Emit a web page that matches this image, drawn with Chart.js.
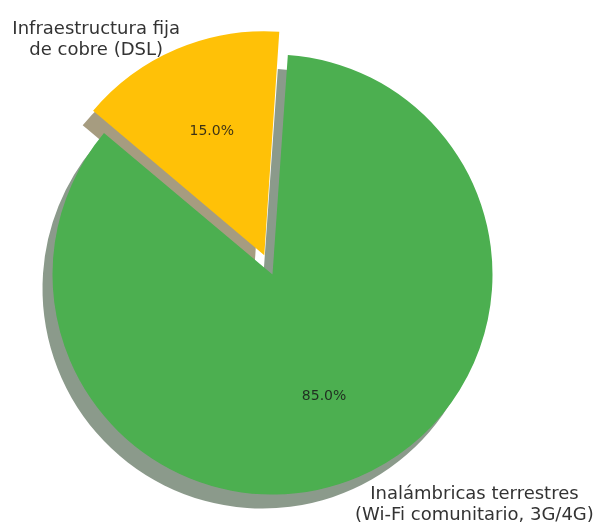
<!DOCTYPE html>
<html>
<head>
<meta charset="utf-8">
<script src="https://cdn.jsdelivr.net/npm/chart.js@4.4.1/dist/chart.umd.min.js"></script>
<style>
  html, body { margin: 0; padding: 0; background: #ffffff; }
  #wrap { width: 598px; height: 528px; position: relative; }
</style>
</head>
<body>
<div id="wrap"><canvas id="pie"></canvas></div>
<script>
// Access-technology shares (percent)
const categories = ['Infraestructura fija\nde cobre (DSL)', 'Inalámbricas terrestres\n(Wi-Fi comunitario, 3G/4G)'];
const shares = [15, 85];
const sliceColors = ['#FFC107', '#4CAF50'];
const explodeOffset = [84, 0];   // Chart.js arc offset (drawn shift = offset / 4)

const FONT = "'DejaVu Sans', 'Liberation Sans', sans-serif";
const SHADOW_DX = -10, SHADOW_DY = 14;

function shadowOf(hex) {
  const n = parseInt(hex.slice(1), 16);
  const r = Math.round(((n >> 16) & 255) * 0.3);
  const g = Math.round(((n >> 8) & 255) * 0.3);
  const b = Math.round((n & 255) * 0.3);
  return `rgba(${r},${g},${b},0.5)`;
}

// Arc geometry including the explode shift applied by ArcElement.draw
function arcGeom(el) {
  const p = el.getProps(['x', 'y', 'startAngle', 'endAngle', 'outerRadius', 'circumference'], true);
  const off = (el.options.offset || 0) / 4;
  const mid = (p.startAngle + p.endAngle) / 2;
  const fix = 1 - Math.sin(Math.min(Math.PI, p.circumference || 0));
  return {
    cx: p.x + Math.cos(mid) * off,
    cy: p.y + Math.sin(mid) * off,
    r: p.outerRadius + off * fix,
    start: p.startAngle, end: p.endAngle, mid
  };
}

const shadowPlugin = {
  id: 'wedgeShadow',
  beforeDatasetsDraw(chart) {
    const ctx = chart.ctx;
    const meta = chart.getDatasetMeta(0);
    meta.data.forEach((el, i) => {
      const g = arcGeom(el);
      ctx.save();
      ctx.translate(SHADOW_DX, SHADOW_DY);
      ctx.beginPath();
      ctx.moveTo(g.cx, g.cy);
      ctx.arc(g.cx, g.cy, g.r, g.start, g.end);
      ctx.closePath();
      ctx.fillStyle = shadowOf(sliceColors[i]);
      ctx.fill();
      ctx.restore();
    });
  }
};

const labelPlugin = {
  id: 'wedgeLabels',
  afterDatasetsDraw(chart) {
    const ctx = chart.ctx;
    const meta = chart.getDatasetMeta(0);
    const values = chart.data.datasets[0].data;
    const total = values.reduce((a, b) => a + b, 0);
    meta.data.forEach((el, i) => {
      const g = arcGeom(el);
      const cos = Math.cos(g.mid), sin = Math.sin(g.mid);

      // percentage inside the wedge
      ctx.save();
      ctx.font = `14px ${FONT}`;
      ctx.fillStyle = 'rgba(25,25,25,0.85)';
      ctx.textAlign = 'center';
      ctx.textBaseline = 'middle';
      const pct = (values[i] / total * 100).toFixed(1) + '%';
      ctx.fillText(pct, g.cx + cos * g.r * 0.6, g.cy + sin * g.r * 0.6);
      ctx.restore();

      // category label outside the wedge: block aligned away from the pie,
      // lines centred within the block
      ctx.save();
      ctx.font = `18px ${FONT}`;
      ctx.fillStyle = '#333333';
      ctx.textAlign = 'center';
      ctx.textBaseline = 'middle';
      const lines = chart.data.labels[i].split('\n');
      const w = Math.max(...lines.map(l => ctx.measureText(l).width));
      const lh = 21;
      const left = cos < 0;
      const ax = g.cx + cos * g.r * 1.1 + (left ? 12 : -12);
      const ay = g.cy + sin * g.r * 1.1 + (left ? 11 : 8);
      const bx = left ? ax - w / 2 : ax + w / 2;
      lines.forEach((l, k) => {
        ctx.fillText(l, bx, ay + (k - (lines.length - 1) / 2) * lh);
      });
      ctx.restore();
    });
  }
};

new Chart(document.getElementById('pie'), {
  type: 'pie',
  data: {
    labels: categories,
    datasets: [{
      data: shares,
      backgroundColor: sliceColors,
      borderWidth: 0,
      offset: explodeOffset,
      hoverOffset: 0,
      radius: 220
    }]
  },
  options: {
    responsive: true,
    maintainAspectRatio: false,
    animation: false,
    events: [],
    rotation: -50,
    layout: { padding: { left: 0, right: 53, top: 21, bottom: 0 } },
    plugins: {
      legend: { display: false },
      tooltip: { enabled: false }
    }
  },
  plugins: [shadowPlugin, labelPlugin]
});
</script>
</body>
</html>
